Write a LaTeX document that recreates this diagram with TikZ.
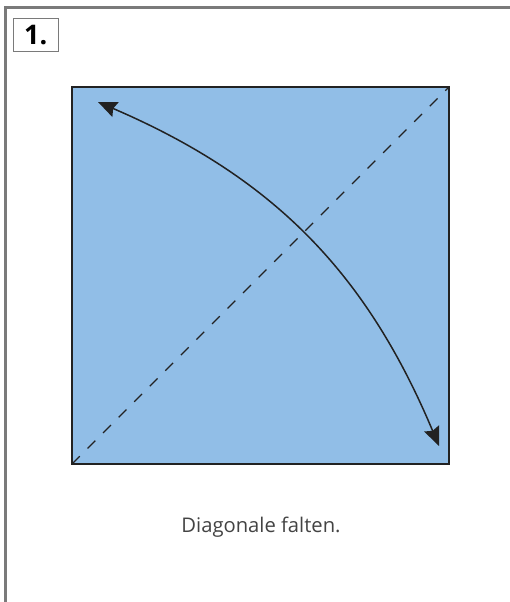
\documentclass[tikz,border=0pt]{standalone}
\usepackage{fontspec}
\setmainfont{Open Sans}
\usetikzlibrary{arrows.meta}
\definecolor{paper}{HTML}{91BEE7}
\definecolor{framegray}{HTML}{7A7A7A}
\definecolor{ink}{HTML}{222222}
\tikzset{
  frameline/.style={draw=framegray, line width=2.4pt},
  labelbox/.style={draw=framegray, line width=1.1pt, minimum width=45pt, minimum height=33pt, inner sep=0pt, font=\fontsize{27}{27}\selectfont\bfseries},
  sheet/.style={fill=paper, draw=ink, line width=1.5pt},
  foldline/.style={draw=ink, line width=1.3pt, dash pattern=on 11pt off 11pt},
  movearrow/.style={draw=ink, line width=1.5pt, {Stealth[length=19pt,width=16pt,inset=2.5pt]}-{Stealth[length=19pt,width=16pt,inset=2.5pt]}},
  caption/.style={font=\fontsize{20.2}{22}\selectfont, text=ink!85}
}
\begin{document}
\begin{tikzpicture}[x=1pt,y=-1pt]
\useasboundingbox (0,0) rectangle (510,602);
\coordinate (ftl) at (5.3,7.5);
\coordinate (fbl) at (5.3,603);
\coordinate (ftr) at (511,7.5);
\draw[frameline] (fbl) -- (ftl) -- (ftr);
\node[labelbox] (num) at (35.8,35) {1.};
\coordinate (sq1) at (72,87);
\coordinate (sq2) at (449,464);
\coordinate (bl) at (72,464);
\coordinate (tr) at (449,87);
\path[sheet] (sq1) rectangle (sq2);
\draw[foldline] (bl) -- (tr);
\coordinate (a1) at (98,102);
\coordinate (a2) at (439,446);
\draw[movearrow] (a1) to[bend left=22] (a2);
\node[caption] (cap) at (261,527) {Diagonale falten.};
\end{tikzpicture}
\end{document}
